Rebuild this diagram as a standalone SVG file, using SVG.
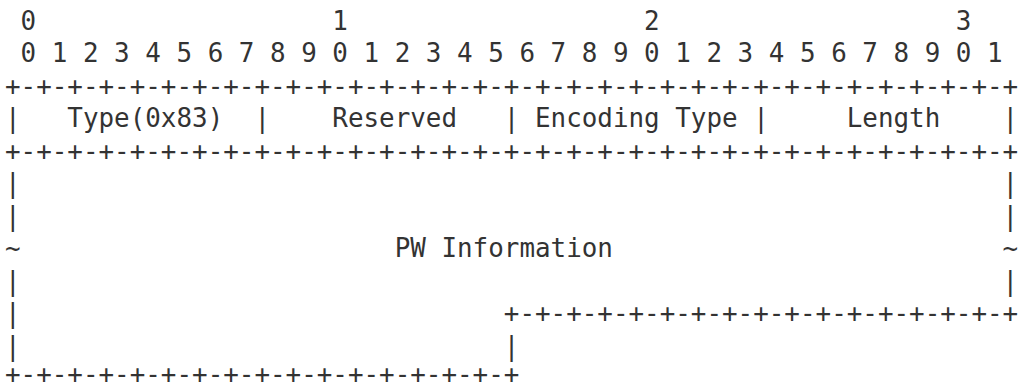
<svg xmlns="http://www.w3.org/2000/svg" width="1023" height="389" viewBox="0 0 1023 389">
<style>
text{font-family:"DejaVu Sans Mono","Liberation Mono",monospace;font-size:25.9px;fill:#333;white-space:pre}
</style>
<rect width="1023" height="389" fill="#fff"/>
<g id="packet" xml:space="preserve">
<text x="5" y="29.5"> 0                   1                   2                   3</text>
<text x="5" y="62"> 0 1 2 3 4 5 6 7 8 9 0 1 2 3 4 5 6 7 8 9 0 1 2 3 4 5 6 7 8 9 0 1</text>
<text x="5" y="94.5">+-+-+-+-+-+-+-+-+-+-+-+-+-+-+-+-+-+-+-+-+-+-+-+-+-+-+-+-+-+-+-+-+</text>
<text x="5" y="127">|   Type(0x83)  |    Reserved   | Encoding Type |     Length    |</text>
<text x="5" y="159.5">+-+-+-+-+-+-+-+-+-+-+-+-+-+-+-+-+-+-+-+-+-+-+-+-+-+-+-+-+-+-+-+-+</text>
<text x="5" y="192">|                                                               |</text>
<text x="5" y="224.5">|                                                               |</text>
<text x="5" y="257">~                        PW Information                         ~</text>
<text x="5" y="289.5">|                                                               |</text>
<text x="5" y="322">|                               +-+-+-+-+-+-+-+-+-+-+-+-+-+-+-+-+</text>
<text x="5" y="354.5">|                               |</text>
<text x="5" y="382.8">+-+-+-+-+-+-+-+-+-+-+-+-+-+-+-+-+</text>
</g>
</svg>
